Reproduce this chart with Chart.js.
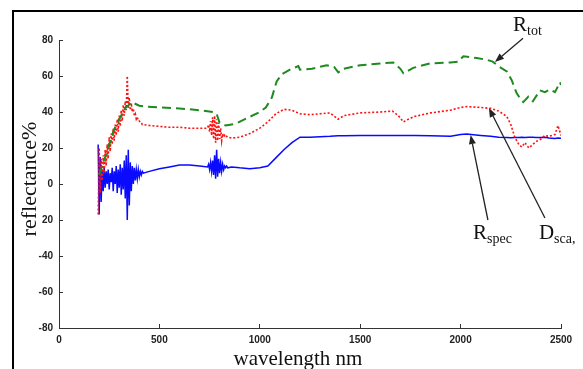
<!DOCTYPE html>
<html>
<head>
<meta charset="utf-8">
<script src="https://cdn.jsdelivr.net/npm/chart.js@4"></script>
<style>
  html, body { margin: 0; padding: 0; background: #fff; }
  #wrap { width: 583px; height: 369px; }
</style>
</head>
<body>
<div id="wrap"><canvas id="chart" width="583" height="369"></canvas></div>
<script>
// wavelength grid shared by the scattered (Dsca) and specular (Rspec) curves
const wlFine = [195,200,205,210,215,220,225,230,235,240,245,250,255,260,265,270,275,280,285,290,295,300,305,310,315,320,325,330,335,340,345,350,355,360,365,370,375,380,385,390,395,400,405,410,415,420,
    450,500,550,600,650,700,740,
    745,750,755,760,765,770,775,780,785,790,795,800,805,810,815,820,825,830,835,840,
    860,900,950,1000,1040,1080,1120,1160,1200,1250,1300,1350,1390,1420,1500,1600,1660,1690,1715,1740,1770,1850,1950,2000,2030,2100,2150,2190,2230,2250,2270,2290,2305,2320,2340,2360,2375,2400,2420,2440,2470,2485,2500];

const dsca = [-17,20,-5,14,2,16,6,19,10,22,14,26,18,28,22,31,24,33,27,36,29,38,32,41,35,44,38,46,41,60,42,48,41,45,40,42,38,39,36,37,35,35,34,34,33,33,
    32.5,32,31.5,31.5,31,31,31,
    33,29,35,27,37,25,38,23,36,24,34,25,31,24,28,26,27,26,26.5,26,
    25.5,26,28,31,34.5,39,41.5,41,39,38.5,39,39.5,36,38,39.5,40,40.5,38,34.5,36,37.5,39.5,41,42.5,43,42.5,42,40.5,37.5,33,26,22,20.5,23,20,22,23.5,25,27,26.5,27.5,32.5,27];

const rspec = [22,-17,15,-10,8,-4,9,-2,7,0,8,-3,6,1,9,-4,7,0,10,-5,8,-2,11,-6,9,-3,13,-8,16,-20,19,-12,12,-4,10,0,9,2,8,3,8,4,7,5,7,6,
    7,8.5,9.5,10.5,10.5,10,9.5,
    11,8,12,7,13,5,16,3,19,4,14,6,12,7,11,8,10,9,10,9,
    9.5,9,8.5,9,10,14.5,19,23,26,26,26.3,26.5,26.8,26.8,27,27,27,27,27,27,27,26.8,26.5,27.5,27.8,27,26.5,26,25.8,25.7,25.8,25.9,26,25.9,26,26,25.8,25.8,26,25.6,25.3,25.6,25.4];

// total reflectance
const wlTot = [200,220,240,270,300,330,362,400,437,500,600,700,768,785,800,830,880,935,1000,1030,1060,1084,1110,1150,1192,1200,1260,1333,1370,1391,1416,1500,1600,1665,1700,1715,1740,1764,1848,1950,1989,2014,2080,2130,2160,2188,2230,2254,2279,2300,2312,2337,2360,2395,2420,2445,2470,2495,2500];
const rtot = [5,12,18,29,36,42,45.5,43.5,43,42.5,42,41,40,39,34,32.5,33.5,36.5,40,42.5,48,57,61,63.5,65.5,63.5,64,66,65,62,64,66,67,67.5,64,61.5,63,64.5,67,67.5,68,71,70,69,68,65.5,62.5,57.8,50.5,47,45.5,48.5,46,52,51,52.5,51,56.5,55];

const xTickLabels = ['0','500','1000','1500','2000','2500'];
const yTickLabels = ['-80','-60','-40','20','0','20','40','60','80'];

// curve labels: text position, arrow tail, arrow head (data units)
const notes = [
    { main: 'R', sub: 'tot',  at: [2261, 85],    from: [2311, 81],    to: [2171, 67.8] },
    { main: 'R', sub: 'spec', at: [2062, -30.6], from: [2136, -20],   to: [2050, 27.2] },
    { main: 'D', sub: 'sca,', at: [2390, -30.6], from: [2420, -18.9], to: [2141, 42.2] },
];

const serif = '"Liberation Serif", "Times New Roman", serif';

function toPoints(xs, ys) {
    return xs.map((x, i) => ({ x: x, y: ys[i] }));
}

const decor = {
    id: 'decor',
    afterDraw(chart) {
        const ctx = chart.ctx;
        const xs = chart.scales.x;
        const ys = chart.scales.y;
        ctx.save();

        // outer frame (left and top)
        ctx.fillStyle = '#000';
        ctx.fillRect(12, 10, 2, 359);
        ctx.fillRect(12, 10, 571, 2);

        // axis titles
        ctx.fillStyle = '#111';
        ctx.font = '21px ' + serif;
        ctx.textAlign = 'center';
        ctx.textBaseline = 'alphabetic';
        ctx.fillText('wavelength nm', 298, 365);

        ctx.save();
        ctx.translate(36, 179);
        ctx.rotate(-Math.PI / 2);
        ctx.font = '22px ' + serif;
        ctx.fillText('reflectance%', 0, 0);
        ctx.restore();

        // annotations with arrows
        ctx.strokeStyle = '#222';
        ctx.fillStyle = '#222';
        ctx.lineWidth = 1.3;
        notes.forEach(n => {
            const x1 = xs.getPixelForValue(n.from[0]), y1 = ys.getPixelForValue(n.from[1]);
            const x2 = xs.getPixelForValue(n.to[0]),   y2 = ys.getPixelForValue(n.to[1]);
            const ang = Math.atan2(y2 - y1, x2 - x1);
            const hl = 9, hw = 3.5;
            const bx = x2 - hl * Math.cos(ang), by = y2 - hl * Math.sin(ang);
            ctx.beginPath();
            ctx.moveTo(x1, y1);
            ctx.lineTo(bx, by);
            ctx.stroke();
            ctx.beginPath();
            ctx.moveTo(x2, y2);
            ctx.lineTo(bx - hw * Math.sin(ang), by + hw * Math.cos(ang));
            ctx.lineTo(bx + hw * Math.sin(ang), by - hw * Math.cos(ang));
            ctx.closePath();
            ctx.fill();

            const tx = xs.getPixelForValue(n.at[0]), ty = ys.getPixelForValue(n.at[1]);
            ctx.textAlign = 'left';
            ctx.font = '21px ' + serif;
            ctx.fillStyle = '#111';
            ctx.fillText(n.main, tx, ty);
            const w = ctx.measureText(n.main).width;
            ctx.font = '14px ' + serif;
            ctx.fillText(n.sub, tx + w, ty + 4);
            ctx.fillStyle = '#222';
        });
        ctx.restore();
    }
};

const tickFont = { family: '"Liberation Sans Narrow", "Liberation Sans", Arial, sans-serif', size: 10, weight: 'bold' };

new Chart(document.getElementById('chart'), {
    type: 'line',
    data: {
        datasets: [
            {
                label: 'Rtot',
                data: toPoints(wlTot, rtot),
                borderColor: '#1f8a1f',
                borderWidth: 2,
                borderDash: [9, 5],
                pointRadius: 0,
                order: 0,
            },
            {
                label: 'Dsca',
                data: toPoints(wlFine, dsca),
                borderColor: '#ff1010',
                borderWidth: 1.6,
                borderDash: [2, 2],
                pointRadius: 0,
                order: 1,
            },
            {
                label: 'Rspec',
                data: toPoints(wlFine, rspec),
                borderColor: '#0a0aff',
                borderWidth: 1.5,
                pointRadius: 0,
                order: 2,
            },
        ]
    },
    options: {
        responsive: false,
        animation: false,
        devicePixelRatio: 1,
        layout: { padding: { left: 0, top: 40, right: 22, bottom: 0 } },
        plugins: {
            legend: { display: false },
            tooltip: { enabled: false }
        },
        scales: {
            x: {
                type: 'linear',
                min: 0,
                max: 2500,
                afterFit: s => { s.height = 41; },
                ticks: {
                    stepSize: 500,
                    maxRotation: 0,
                    padding: 10,
                    color: '#222',
                    font: tickFont,
                    callback: (v, i) => xTickLabels[i]
                },
                grid: { display: true, drawOnChartArea: false, drawTicks: true, tickLength: -4, color: '#333' },
                border: { display: true, color: '#333', width: 1 }
            },
            y: {
                min: -80,
                max: 80,
                afterFit: s => { s.width = 59; },
                ticks: {
                    stepSize: 20,
                    padding: 10,
                    color: '#222',
                    font: tickFont,
                    callback: (v, i) => yTickLabels[i]
                },
                grid: { display: true, drawOnChartArea: false, drawTicks: true, tickLength: -4, color: '#333' },
                border: { display: true, color: '#333', width: 1 }
            }
        }
    },
    plugins: [decor]
});
</script>
</body>
</html>
